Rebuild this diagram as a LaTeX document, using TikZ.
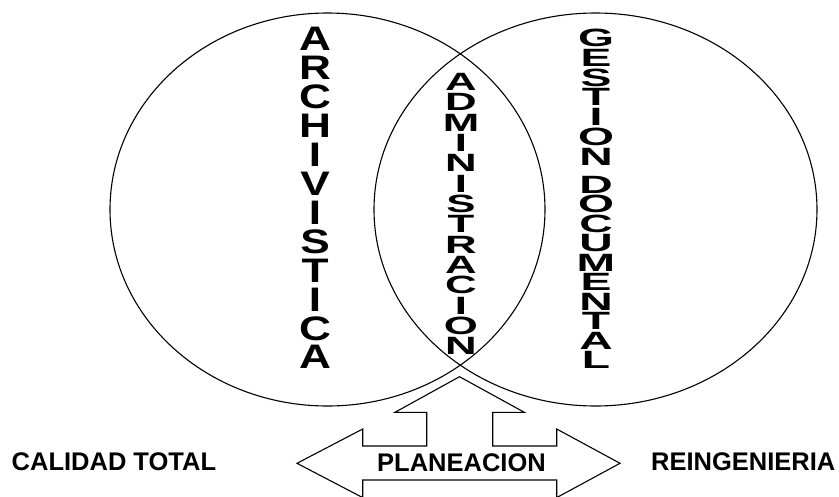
\documentclass[tikz,border=0pt]{standalone}
\usepackage{fontspec}
\setmainfont{Liberation Sans}
\usepackage{graphicx}
\begin{document}
\begin{tikzpicture}[x=1pt,y=-1pt,
  outline/.style={draw=black,line width=1.1pt},
  lbl/.style={inner sep=0pt,anchor=base,font=\bfseries\fontsize{25.5}{30}\selectfont},
  archl/.style={inner sep=0pt,anchor=base,text height=24.4pt,text depth=0pt,font=\bfseries\fontsize{34}{34}\selectfont},
  adml/.style={inner sep=0pt,anchor=base,text height=17.9pt,text depth=0pt,font=\bfseries\fontsize{25}{25}\selectfont},
  gesl/.style={inner sep=0pt,anchor=base,text height=17.9pt,text depth=0pt,font=\bfseries\fontsize{25}{25}\selectfont}]
\fill[white] (0,0) rectangle (839,496);
\useasboundingbox (0,0) rectangle (839,496);
% circles
\draw[outline] (327.5,209.5) ellipse [x radius=217.5pt, y radius=196.5pt];
\draw[outline] (595.5,209.5) ellipse [x radius=221.5pt, y radius=196.5pt];
% vertical words
\foreach \l [count=\i from 0] in {A,R,C,H,I,V,I,S,T,I,C,A}
  \node[archl] (arch\i) at (315,{50.3+\i*28.97}) {\scalebox{1.3}[1]{\l}};
\foreach \l [count=\i from 0] in {A,D,M,I,N,I,S,T,R,A,C,I,O,N}
  \node[adml] (adm\i) at (461,{90.3+\i*20.36}) {\scalebox{1.75}[1]{\l}};
\foreach \l [count=\i from 0] in {G,E,S,T,I,O,N}
  \node[gesl] (ges\i) at (596,{46.3+\i*19.85}) {\scalebox{1.85}[1]{\l}};
\foreach \l [count=\i from 0] in {D,O,C,U,M,E,N,T,A,L}
  \node[gesl] (doc\i) at (596,{193.4+\i*19.51}) {\scalebox{1.85}[1]{\l}};
% arrow
\draw[outline,line join=miter]
  (459.5,376.7) -- (524.3,412.3) -- (492.7,412.3) -- (492.7,446) -- (556.7,446)
  -- (556.7,429) -- (620,463.3) -- (556.7,497.6) -- (556.7,480) -- (362.7,480)
  -- (362.7,497.6) -- (297,463.3) -- (362.7,429) -- (362.7,446) -- (426.7,446)
  -- (426.7,412.3) -- (395,412.3) -- cycle;
% labels
\node[lbl] (plan) at (461.5,471) {PLANEACION};
\node[lbl,anchor=base west] (cal) at (11.5,470) {CALIDAD TOTAL};
\node[lbl,anchor=base east] (rei) at (835.5,470) {REINGENIERIA};
\end{tikzpicture}
\end{document}
